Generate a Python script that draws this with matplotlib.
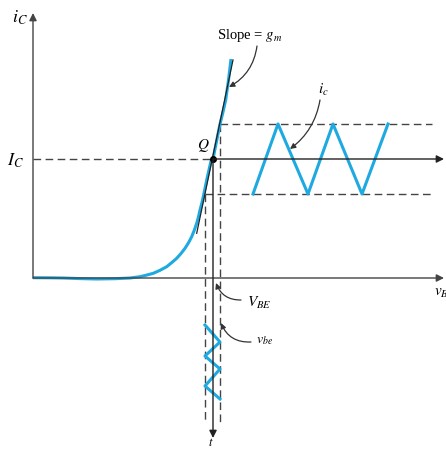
import matplotlib
matplotlib.use("Agg")
import matplotlib.pyplot as plt

plt.rcParams['mathtext.fontset'] = 'stix'
plt.rcParams['font.family'] = ['Liberation Serif', 'DejaVu Serif']

# ---- data (diagram coordinates, y grows downward) ----
curve_x = [33, 50, 63, 80, 97, 115, 130, 140, 147, 153.3, 160, 166.7, 171.5, 176.7, 181, 185,
           188.5, 191.7, 194.3, 196.7, 198.5, 200, 201.8, 203.3, 205, 206.7, 209, 211, 213,
           216.5, 220, 223, 225.7, 228.5, 231]
curve_y = [277.7, 277.8, 278, 278.6, 279, 278.7, 278, 276.7, 275, 273.3, 270.3, 266.7, 262.8,
           258.3, 253.5, 248.3, 242.8, 236.7, 230.2, 223.3, 216.7, 210, 203.3, 196.7, 188.4,
           180, 169.8, 161, 159, 141.5, 124, 112, 100, 80, 59]

tangent_x = [196.7, 233]
tangent_y = [233.3, 60]

ic_wave_x = [253, 278, 308, 333, 362, 388]
ic_wave_y = [194, 124, 194, 124, 194, 124]

vbe_wave_x = [205, 220, 205, 220, 205, 220]
vbe_wave_y = [325, 342, 356, 369, 386, 399]

Q = (213, 159)
ic_hi, ic_lo = 124, 194
v_lo, v_hi = 205, 220

BLUE = '#1fa9e1'
GREY = '#444444'
DASH = (0, (5.5, 3.2))

fig = plt.figure(figsize=(4.46, 4.5), dpi=100)
ax = fig.add_axes([0, 0, 1, 1])
ax.set_xlim(0, 446)
ax.set_ylim(450, 0)
ax.axis('off')

def arrow(x0, y0, x1, y1, lw=1.0, color=GREY):
    ax.annotate('', xy=(x1, y1), xytext=(x0, y0),
                arrowprops=dict(arrowstyle='-|>', color=color, lw=lw,
                                mutation_scale=11, shrinkA=0, shrinkB=0))

# axes
arrow(33, 278, 33, 13)
arrow(33, 278, 444, 278)
# Q horizontal axis
arrow(Q[0], Q[1], 444, Q[1], color='#222222')
# t axis downward
arrow(Q[0], Q[1], Q[0], 438, color='#222222')

# dashed guides
ax.plot([33, Q[0]], [Q[1], Q[1]], color=GREY, lw=1.0, linestyle=DASH)
ax.plot([v_hi, 432], [ic_hi, ic_hi], color=GREY, lw=1.0, linestyle=DASH)
ax.plot([v_lo, 432], [ic_lo, ic_lo], color=GREY, lw=1.0, linestyle=DASH)
ax.plot([v_lo, v_lo], [ic_lo, 422], color=GREY, lw=1.0, linestyle=DASH)
ax.plot([v_hi, v_hi], [ic_hi, 422], color=GREY, lw=1.0, linestyle=DASH)

# curve and tangent
ax.plot(curve_x, curve_y, color=BLUE, lw=2.2, solid_capstyle='butt', solid_joinstyle='round')
ax.plot(tangent_x, tangent_y, color='#222222', lw=0.9)

# waves
ax.plot(ic_wave_x, ic_wave_y, color=BLUE, lw=2.2)
ax.plot(vbe_wave_x, vbe_wave_y, color=BLUE, lw=2.2)

# Q point
ax.plot([Q[0]], [Q[1]], 'o', color='black', ms=4)

# labels
ax.text(20, 18, r'$i_C$', fontsize=13, ha='center', va='center')
ax.text(15, 161, r'$I_C$', fontsize=13, ha='center', va='center')
ax.text(203, 146, r'$Q$', fontsize=11, ha='center', va='center')
ax.text(250, 35, r'Slope = $g_m$', fontsize=10.5, ha='center', va='center')
ax.text(323, 90, r'$i_c$', fontsize=11, ha='center', va='center')
ax.text(434, 293, r'$v_{BE}$', fontsize=11, ha='left', va='center')
ax.text(259, 303, r'$V_{BE}$', fontsize=11, ha='center', va='center')
ax.text(265, 342, r'$v_{be}$', fontsize=10, ha='center', va='center')
ax.text(211, 443, r'$t$', fontsize=9, ha='center', va='center')

def callout(x0, y0, x1, y1, rad):
    ax.annotate('', xy=(x1, y1), xytext=(x0, y0),
                arrowprops=dict(arrowstyle='-|>', color='#333333', lw=0.9,
                                mutation_scale=8, shrinkA=0, shrinkB=0,
                                connectionstyle=f'arc3,rad={rad}'))

callout(257, 46, 229, 87, -0.25)
callout(320, 100, 290, 149, -0.2)
callout(241, 300, 216, 283, -0.35)
callout(251, 342, 221, 323, -0.35)

fig.savefig('out.png', dpi=100)
